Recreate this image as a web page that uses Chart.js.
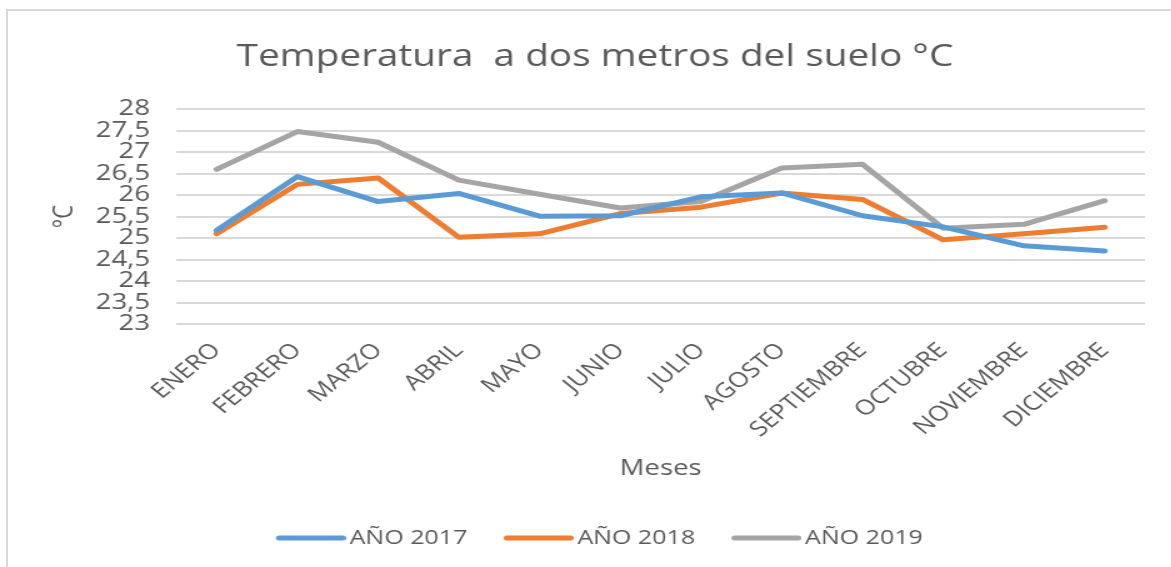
<!DOCTYPE html>
<html>
<head>
<meta charset="utf-8">
<script src="https://cdn.jsdelivr.net/npm/chart.js@4/dist/chart.umd.min.js"></script>
<style>
  html, body { margin: 0; padding: 0; background: #fff; overflow: hidden; }
  #wrap { position: relative; width: 1171px; height: 567px; overflow: hidden; }
  #stretch { position: absolute; left: 0; top: 0; width: 937px; height: 567px; transform: scaleX(1.25); transform-origin: 0 0; }
  #frame { position: absolute; left: 6px; top: 9px; right: -10px; bottom: -10px; border-left: 2px solid #d9d9d9; border-top: 2px solid #d9d9d9; pointer-events: none; }
  canvas { display: block; }
</style>
</head>
<body>
<div id="wrap">
  <div id="stretch"><canvas id="c" width="937" height="567"></canvas></div>
  <div id="frame"></div>
</div>
<script>
const months = ['ENERO', 'FEBRERO', 'MARZO', 'ABRIL', 'MAYO', 'JUNIO', 'JULIO', 'AGOSTO', 'SEPTIEMBRE', 'OCTUBRE', 'NOVIEMBRE', 'DICIEMBRE'];
const year2017 = [25.18, 26.43, 25.85, 26.04, 25.51, 25.52, 25.96, 26.05, 25.52, 25.26, 24.82, 24.70];
const year2018 = [25.10, 26.25, 26.40, 25.02, 25.10, 25.57, 25.72, 26.05, 25.90, 24.96, 25.10, 25.25];
const year2019 = [26.60, 27.48, 27.23, 26.35, 26.02, 25.70, 25.85, 26.63, 26.72, 25.23, 25.32, 25.87];
const seriesNames = ['AÑO 2017', 'AÑO 2018', 'AÑO 2019'];
const yMin = 23, yMax = 28, yStep = 0.5;
const chartTitle = 'Temperatura  a dos metros del suelo °C';
const yTitle = '°C';
const xTitle = 'Meses';

const txt = '#595959';
const fam = '"Open Sans", sans-serif';
const colors = ['#5B9BD5', '#ED7D31', '#A5A5A5'];
const data = [year2017, year2018, year2019];

// legend line sample (image used as legend point style)
function legendLine(color) {
  const c = document.createElement('canvas');
  c.width = 70; c.height = 8;
  const g = c.getContext('2d');
  g.strokeStyle = color;
  g.lineWidth = 5;
  g.lineCap = 'round';
  g.beginPath();
  g.moveTo(16.5, 4);
  g.lineTo(67.5, 4);
  g.stroke();
  return c;
}

new Chart(document.getElementById('c'), {
  type: 'line',
  data: {
    labels: months,
    datasets: data.map((d, i) => ({
      label: seriesNames[i],
      data: d,
      borderColor: colors[i],
      backgroundColor: colors[i],
      borderWidth: 5,
      pointRadius: 0,
      pointHoverRadius: 0,
      pointStyle: legendLine(colors[i]),
      tension: 0,
      borderCapStyle: 'round',
      borderJoinStyle: 'round',
      fill: false
    }))
  },
  options: {
    responsive: false,
    animation: false,
    devicePixelRatio: 1,
    layout: { padding: { left: 36, right: 21, top: 22, bottom: 9 } },
    plugins: {
      title: {
        display: true,
        text: chartTitle,
        color: txt,
        font: { family: fam, size: 31, weight: 'normal' },
        padding: { top: 17, bottom: 33 }
      },
      legend: {
        position: 'bottom',
        labels: {
          color: txt,
          font: { family: fam, size: 20 },
          usePointStyle: true,
          pointStyleWidth: 56,
          boxHeight: 5,
          padding: 22
        }
      },
      tooltip: { enabled: false }
    },
    scales: {
      x: {
        offset: true,
        grid: { display: false },
        border: { display: false },
        ticks: {
          color: txt,
          font: { family: fam, size: 21 },
          minRotation: 45,
          maxRotation: 45,
          autoSkip: false,
          padding: 6
        },
        title: {
          display: true,
          text: xTitle,
          color: txt,
          font: { family: fam, size: 22 },
          padding: { top: 0, bottom: 24 }
        },
        afterFit: (s) => { s.height = 182; }
      },
      y: {
        min: yMin,
        max: yMax,
        grid: { color: '#d9d9d9', lineWidth: 2, drawTicks: false },
        border: { display: false },
        ticks: {
          stepSize: yStep,
          autoSkip: false,
          color: txt,
          font: { family: fam, size: 22 },
          padding: 21,
          callback: (v) => String(v).replace('.', ',')
        },
        title: {
          display: true,
          text: yTitle,
          color: txt,
          font: { family: fam, size: 22 },
          padding: { top: 3, bottom: 0 }
        },
        afterFit: (s) => { s.width = 105; }
      }
    }
  }
});
</script>
</body>
</html>
